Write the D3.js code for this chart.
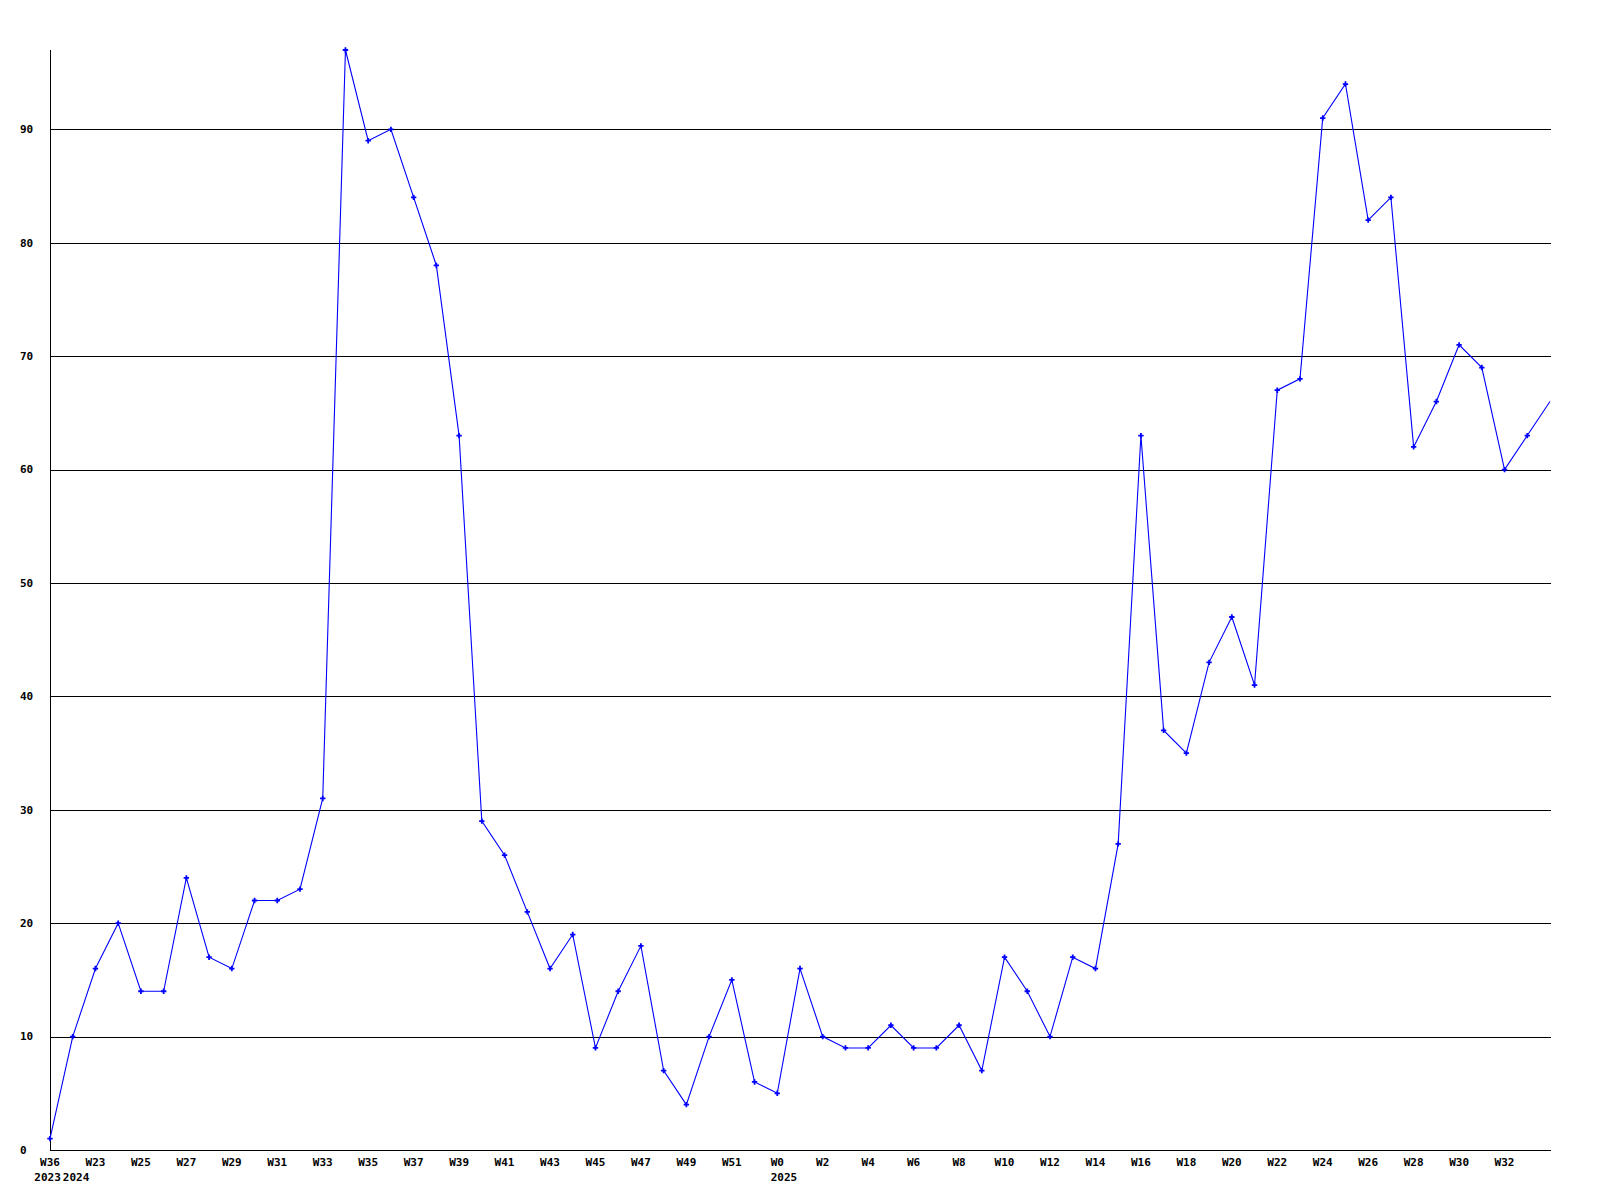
<!DOCTYPE html>
<html>
<head>
<meta charset="utf-8">
<script src="https://cdn.jsdelivr.net/npm/d3@7/dist/d3.min.js"></script>
<style>
  html, body { margin: 0; padding: 0; background: #ffffff; }
  svg { display: block; }
  text { font-family: "DejaVu Sans Mono", "Liberation Mono", monospace; font-weight: bold; font-size: 11px; fill: #000; }
</style>
</head>
<body>
<script>
// ---- data ----
const weeks = ["W36",
  "W22","W23","W24","W25","W26","W27","W28","W29","W30","W31","W32","W33","W34","W35","W36","W37","W38","W39","W40",
  "W41","W42","W43","W44","W45","W46","W47","W48","W49","W50","W51","W52",
  "W0","W1","W2","W3","W4","W5","W6","W7","W8","W9","W10","W11","W12","W13","W14","W15","W16","W17","W18","W19","W20",
  "W21","W22","W23","W24","W25","W26","W27","W28","W29","W30","W31","W32","W33","W34"];
const years = ["2023",
  "2024","2024","2024","2024","2024","2024","2024","2024","2024","2024","2024","2024","2024","2024","2024","2024","2024","2024","2024",
  "2024","2024","2024","2024","2024","2024","2024","2024","2024","2024","2024","2024",
  "2025","2025","2025","2025","2025","2025","2025","2025","2025","2025","2025","2025","2025","2025","2025","2025","2025","2025","2025","2025","2025",
  "2025","2025","2025","2025","2025","2025","2025","2025","2025","2025","2025","2025","2025","2025"];
const values = [1,
  10,16,20,14,14,24,17,16,22,22,23,31,97,89,90,84,78,63,29,
  26,21,16,19,9,14,18,7,4,10,15,6,
  5,16,10,9,9,11,9,9,11,7,17,14,10,17,16,27,63,37,35,43,47,
  41,67,68,91,94,82,84,62,66,71,69,60,63,66];
const yTicks = [0,10,20,30,40,50,60,70,80,90];

// ---- layout ----
const W = 1600, H = 1200;
const pL = 50, pR = 1550, pT = 50, pB = 1150;

const svg = d3.select("body").append("svg").attr("width", W).attr("height", H);

const idx = d3.range(values.length);
const x = d3.scalePoint().domain(idx).range([pL, pR]);
const y = d3.scaleLinear().domain([0, d3.max(values)]).range([pB, pT]);

const snap = v => Math.round(v) + 0.5;

// gridlines
svg.append("g").selectAll("line").data(yTicks.filter(t => t > 0)).join("line")
  .attr("x1", pL).attr("x2", pR + 1)
  .attr("y1", d => snap(y(d))).attr("y2", d => snap(y(d)))
  .attr("stroke", "#000").attr("stroke-width", 1).attr("shape-rendering", "crispEdges");

// axes lines
svg.append("line").attr("x1", snap(pL)).attr("x2", snap(pL))
  .attr("y1", pT).attr("y2", snap(y(0)))
  .attr("stroke", "#000").attr("shape-rendering", "crispEdges");
svg.append("line").attr("x1", pL).attr("x2", pR + 1)
  .attr("y1", snap(y(0))).attr("y2", snap(y(0)))
  .attr("stroke", "#000").attr("shape-rendering", "crispEdges");

// y tick labels
svg.append("g").selectAll("text").data(yTicks).join("text")
  .attr("x", 20).attr("y", d => y(d)).attr("dy", "0.35em")
  .text(d => d);

// x labels (every other week)
const labelIdx = idx.filter(i => i % 2 === 0 && i < values.length - 1);
svg.append("g").selectAll("text").data(labelIdx).join("text")
  .attr("x", i => x(i)).attr("y", pB + 16)
  .attr("text-anchor", "middle")
  .text(i => weeks[i]);

// year labels where the year changes, left aligned with the week label
const yearIdx = idx.filter(i => i === 0 || years[i] !== years[i - 1]);
const meas = svg.append("text").attr("visibility", "hidden");
function textW(s) { meas.text(s); return meas.node().getComputedTextLength(); }
const yearX = yearIdx.map(i => x(i) - textW(weeks[i]) / 2);
// nudge a label left if it would run into the next one
for (let k = 0; k + 1 < yearX.length; k++) {
  const w = textW(years[yearIdx[k]]);
  if (yearX[k] + w > yearX[k + 1] - 2) yearX[k] = yearX[k + 1] - 2 - w;
}
svg.append("g").selectAll("text").data(yearIdx).join("text")
  .attr("x", (i, k) => yearX[k])
  .attr("y", pB + 31)
  .text(i => years[i]);
meas.remove();

// clip (right edge of plot area only)
svg.append("clipPath").attr("id", "plot").append("rect")
  .attr("x", 0).attr("y", 0).attr("width", pR + 1).attr("height", pB + 5);

// line
const line = d3.line().x(i => x(i)).y(i => y(values[i]));
svg.append("path").datum(idx)
  .attr("d", line)
  .attr("fill", "none").attr("stroke", "#0000ff").attr("stroke-width", 1.1)
  .attr("clip-path", "url(#plot)");

// markers
const sym = d3.symbol().type(d3.symbolCross).size(16);
svg.append("g").attr("clip-path", "url(#plot)").selectAll("path").data(idx.slice(0, values.length - 1)).join("path")
  .attr("transform", i => `translate(${x(i)},${y(values[i])})`)
  .attr("d", sym)
  .attr("fill", "#0000ff");
</script>
</body>
</html>
